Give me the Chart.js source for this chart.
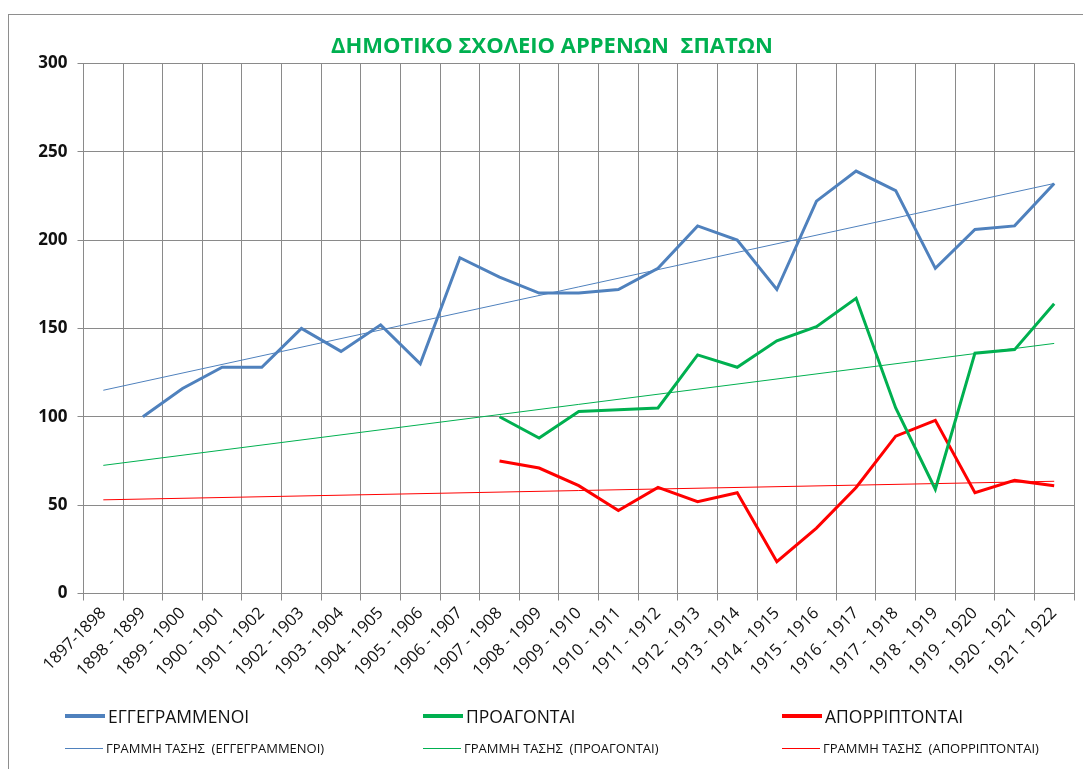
<!DOCTYPE html>
<html>
<head>
<meta charset="utf-8">
<title>ΔΗΜΟΤΙΚΟ ΣΧΟΛΕΙΟ ΑΡΡΕΝΩΝ ΣΠΑΤΩΝ</title>
<script src="https://cdn.jsdelivr.net/npm/chart.js@4.4.0/dist/chart.umd.min.js"></script>
<style>
    body { margin: 0; background: #fff; font-family: "Open Sans", sans-serif; overflow: hidden; }
    #frame { position: absolute; left: 8px; top: 14px; width: 1100px; height: 800px; border: 1px solid #8e8e8e; }
    #chart { position: absolute; left: 0; top: 0; }
    #title { position: absolute; left: 0; top: 29px; width: 1104px; text-align: center;
             color: #00b050; font-size: 22px; font-weight: bold; white-space: pre; }
    .item { position: absolute; display: flex; align-items: center; color: #111; white-space: pre; }
    .item .swatch { display: inline-block; margin-right: 3px; }
    .big { font-size: 17.5px; }
    .big .swatch { width: 40px; height: 4px; }
    .small { font-size: 13px; }
    .small .swatch { width: 38px; height: 1px; }
</style>
</head>
<body>
<div id="frame"></div>
<canvas id="chart" width="1083" height="769"></canvas>
<div id="title"></div>
<div id="legend"></div>

<script>
// --- Data ---
const title = "ΔΗΜΟΤΙΚΟ ΣΧΟΛΕΙΟ ΑΡΡΕΝΩΝ  ΣΠΑΤΩΝ";

const years = [
    "1897-1898", "1898 - 1899", "1899 - 1900", "1900 - 1901", "1901 - 1902",
    "1902 - 1903", "1903 - 1904", "1904 - 1905", "1905 - 1906", "1906 - 1907",
    "1907 - 1908", "1908 - 1909", "1909 - 1910", "1910 - 1911", "1911 - 1912",
    "1912 - 1913", "1913 - 1914", "1914 - 1915", "1915 - 1916", "1916 - 1917",
    "1917 - 1918", "1918 - 1919", "1919 - 1920", "1920 - 1921", "1921 - 1922",
];

const enrolled = [null, 100, 116, 128, 128, 150, 137, 152, 130, 190, 179, 170, 170,
    172, 184, 208, 200, 172, 222, 239, 228, 184, 206, 208, 232];
const promoted = [null, null, null, null, null, null, null, null, null, null, 100, 88, 103,
    104, 105, 135, 128, 143, 151, 167, 105, 59, 136, 138, 164];
const failed = [null, null, null, null, null, null, null, null, null, null, 75, 71, 61,
    47, 60, 52, 57, 18, 37, 60, 89, 98, 57, 64, 61];

// trend lines: value at first and last school year (straight lines)
const enrolledTrend = [115, 232];
const promotedTrend = [72.5, 141.5];
const failedTrend = [53, 63.5];

const seriesNames = ["ΕΓΓΕΓΡΑΜΜΕΝΟΙ", "ΠΡΟΑΓΟΝΤΑΙ", "ΑΠΟΡΡΙΠΤΟΝΤΑΙ"];
const trendNames = [
    "ΓΡΑΜΜΗ ΤΑΣΗΣ  (ΕΓΓΕΓΡΑΜΜΕΝΟΙ)",
    "ΓΡΑΜΜΗ ΤΑΣΗΣ  (ΠΡΟΑΓΟΝΤΑΙ)",
    "ΓΡΑΜΜΗ ΤΑΣΗΣ  (ΑΠΟΡΡΙΠΤΟΝΤΑΙ)",
];
const colors = ["#4f81bd", "#00b050", "#ff0000"];

// --- Helpers ---
function endpoints(pair) {
    const arr = years.map(() => null);
    arr[0] = pair[0];
    arr[arr.length - 1] = pair[1];
    return arr;
}

function dataLine(label, data, color) {
    return {
        label: label,
        data: data,
        borderColor: color,
        backgroundColor: color,
        borderWidth: 3,
        pointRadius: 0,
        tension: 0,
        spanGaps: false,
    };
}

function trendLine(label, pair, color) {
    return {
        label: label,
        data: endpoints(pair),
        borderColor: color,
        borderWidth: 1,
        pointRadius: 0,
        spanGaps: true,
    };
}

// --- Chart ---
const gridColor = "#8a8a8a";
const ctx = document.getElementById("chart").getContext("2d");
document.getElementById("title").textContent = title;

new Chart(ctx, {
    type: "line",
    data: {
        labels: years,
        datasets: [
            dataLine(seriesNames[0], enrolled, colors[0]),
            dataLine(seriesNames[1], promoted, colors[1]),
            dataLine(seriesNames[2], failed, colors[2]),
            trendLine(trendNames[0], enrolledTrend, colors[0]),
            trendLine(trendNames[1], promotedTrend, colors[1]),
            trendLine(trendNames[2], failedTrend, colors[2]),
        ],
    },
    options: {
        responsive: false,
        animation: false,
        layout: { padding: { left: 0, right: 9, top: 63.3, bottom: 0 } },
        plugins: {
            legend: { display: false },
            tooltip: { enabled: false },
        },
        scales: {
            x: {
                offset: true,
                grid: { offset: true, color: gridColor, tickLength: 7 },
                border: { color: gridColor },
                ticks: {
                    autoSkip: false,
                    minRotation: 45,
                    maxRotation: 45,
                    color: "#111",
                    padding: 3,
                    font: { family: "Open Sans", size: 16.5 },
                },
                afterFit: (scale) => { scale.height = 769 - 593.5; },
            },
            y: {
                min: 0,
                max: 300,
                grid: { color: gridColor, tickLength: 6 },
                border: { color: gridColor },
                ticks: {
                    stepSize: 50,
                    color: "#111",
                    padding: 10,
                    font: { family: "Open Sans", size: 17, weight: "bold" },
                },
                afterFit: (scale) => { scale.width = 83.5; },
            },
        },
    },
});

// --- Legend (two sizes, so built in HTML) ---
const legendEl = document.getElementById("legend");
const columns = [65, 423, 782];

function addItem(text, color, cls, left, centerY) {
    const item = document.createElement("div");
    item.className = "item " + cls;
    item.style.left = left + "px";
    item.style.top = centerY - 12 + "px";
    item.style.height = "24px";
    const sw = document.createElement("span");
    sw.className = "swatch";
    sw.style.background = color;
    item.appendChild(sw);
    item.appendChild(document.createTextNode(text));
    legendEl.appendChild(item);
}

seriesNames.forEach((name, i) => addItem(name, colors[i], "big", columns[i], 716));
trendNames.forEach((name, i) => addItem(name, colors[i], "small", columns[i], 748));
</script>
</body>
</html>
